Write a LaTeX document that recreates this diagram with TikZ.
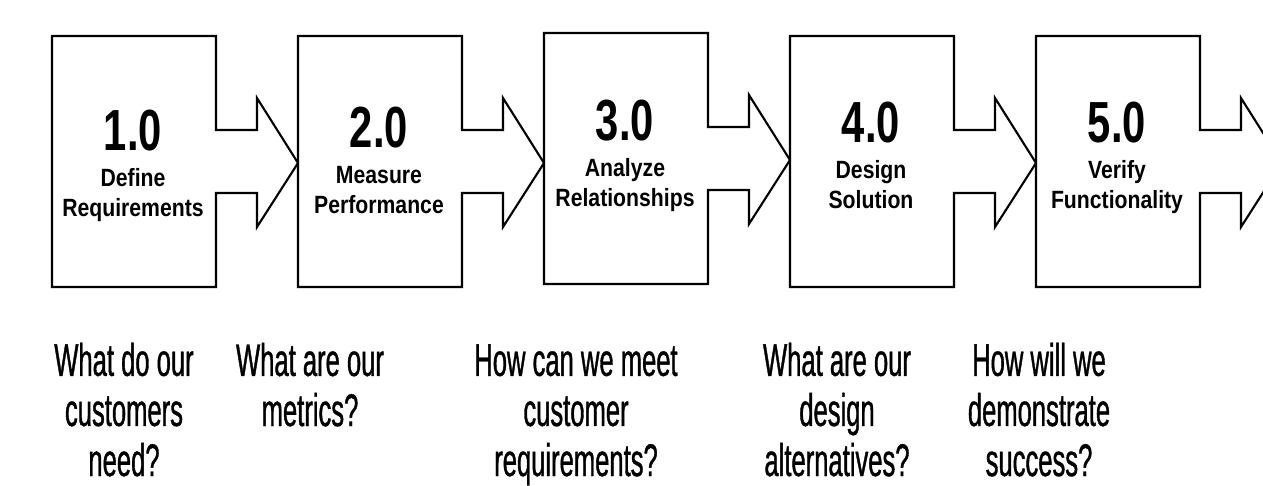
\documentclass[tikz,border=0pt]{standalone}
\usepackage{fontspec}
\setmainfont{Liberation Sans}
\newfontfamily\qfont[FakeStretch=0.56,FakeBold=0.8]{Liberation Sans}
\newfontfamily\numfont[FakeStretch=0.72]{Liberation Sans}
\newfontfamily\lblfont[FakeStretch=0.85]{Liberation Sans}
\tikzset{
  stepbox/.style={draw=black,line width=1.2pt,fill=white,line join=miter},
  stepnum/.style={anchor=base,inner sep=0pt,font=\numfont\bfseries\fontsize{33}{33}\selectfont},
  steplbl/.style={anchor=base,inner sep=0pt,align=center,font=\lblfont\bfseries\fontsize{14.2}{17}\selectfont},
  question/.style={anchor=base,inner sep=0pt,align=center,font=\qfont\fontsize{26}{28.5}\selectfont}
}
\begin{document}
\begin{tikzpicture}[x=0.2mm,y=-0.2mm]
	\clip (0,0) rectangle (1263,485);
	\fill[white] (0,0) rectangle (1263,485);
	% boxes with the block arrow on their right side
	\foreach \i/\t/\nb/\lbl in {1/36/150/{Define\\Requirements},2/36/147/{Measure\\Performance},3/33/140/{Analyze\\Relationships},4/36/142/{Design\\Solution},5/36/142/{Verify\\Functionality}}{
		\pgfmathsetmacro\x{52+246*(\i-1)}
		\draw[stepbox] (\x,\t) -- ++(164,0) -- ++(0,94) -- ++(41,0) -- ++(0,-32) -- ++(41,65) -- ++(-41,64) -- ++(0,-34) -- ++(-41,0) -- ++(0,94) -- ++(-164,0) -- cycle;
		\node[stepnum] (n\i) at (\x+81,\nb) {\i.0};
		% base of a two line node is the last line
		\node[steplbl] (l\i) at (\x+81,\nb+66) {\lbl};
	}
	% questions under the steps
	\foreach \i/\cx/\by/\q in {1/124/476/{What do our\\customers\\need?},2/310/426/{What are our\\metrics?},3/576/476/{How can we meet\\customer\\requirements?},4/837/476/{What are our\\design\\alternatives?},5/1039/476/{How will we\\demonstrate\\success?}}
		\node[question] (q\i) at (\cx,\by) {\q};
\end{tikzpicture}
\end{document}
